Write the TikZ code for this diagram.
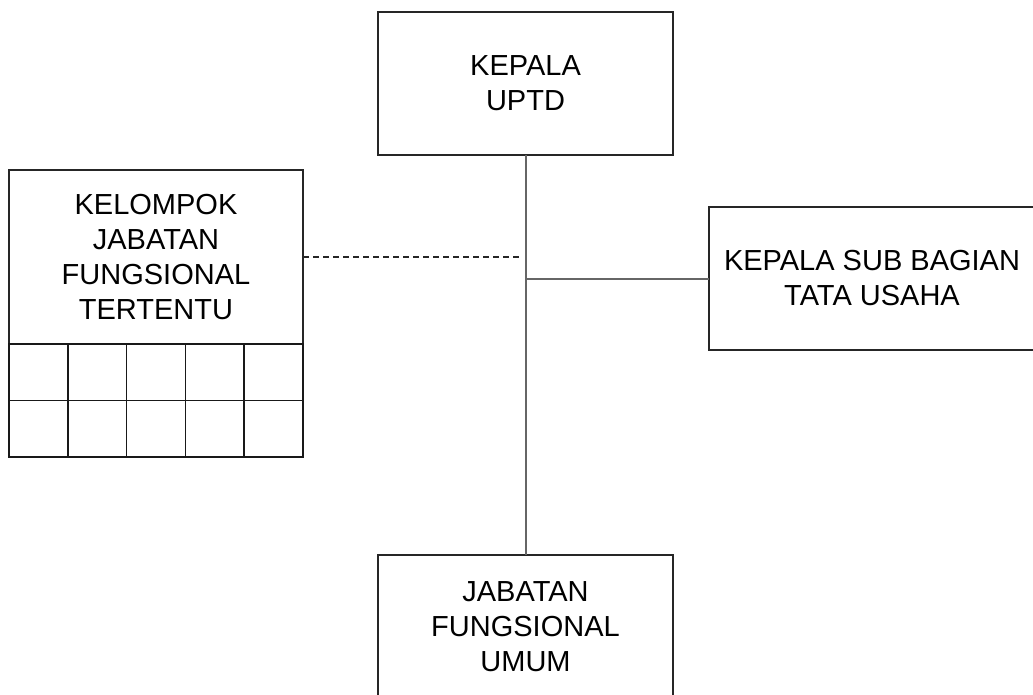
\documentclass[tikz,border=0pt]{standalone}
\usepackage{fontspec}
\setmainfont{Liberation Sans}
\usetikzlibrary{positioning}

\begin{document}
\begin{tikzpicture}[
  font=\fontsize{29}{35}\selectfont,
  unit/.style={draw=black!85, line width=1.6pt, align=center, minimum width=295pt, minimum height=143pt, inner sep=0pt, outer sep=0pt},
  cell/.style={draw=black!90, line width=1.6pt, minimum width=58.8pt, minimum height=56.5pt, inner sep=0pt, outer sep=0pt, anchor=north west},
  line/.style={draw=black!60, line width=2pt},
  staff/.style={draw=black!85, line width=1.3pt, dash pattern=on 6pt off 4pt}
]
\clip (0pt,0pt) rectangle (1033pt,-695pt);
\useasboundingbox (0pt,0pt) rectangle (1033pt,-695pt);

\node[unit] (kepala) at (525.5pt,-83.5pt) {KEPALA\\UPTD};
\node[unit, below=400pt of kepala] (jfu) {JABATAN\\FUNGSIONAL\\UMUM};
\node[unit, minimum width=326pt, below right=52pt and 36pt of kepala] (kasubag) {KEPALA SUB BAGIAN\\TATA USAHA};
\node[unit, minimum width=294pt, minimum height=174pt, below left=15pt and 75pt of kepala] (kjf)
  {KELOMPOK\\JABATAN\\FUNGSIONAL\\TERTENTU};

% kotak anggota kelompok
\foreach \r in {1,2} {
  \foreach \c in {1,...,5} {
    \node[cell] (cell-\r-\c) at ([xshift={(\c-1)*58.8pt}, yshift={-(\r-1)*56.5pt}]kjf.south west) {};
  }
}

\coordinate (tu) at (kasubag.west -| kepala.south);
\coordinate (fgs) at ([xshift=-4pt]kjf.east -| kepala.south);

\draw[line] (kepala) -- (jfu);
\draw[line] (tu) -- (kasubag);
\draw[staff] (kjf) -- (fgs);

\end{tikzpicture}
\end{document}
